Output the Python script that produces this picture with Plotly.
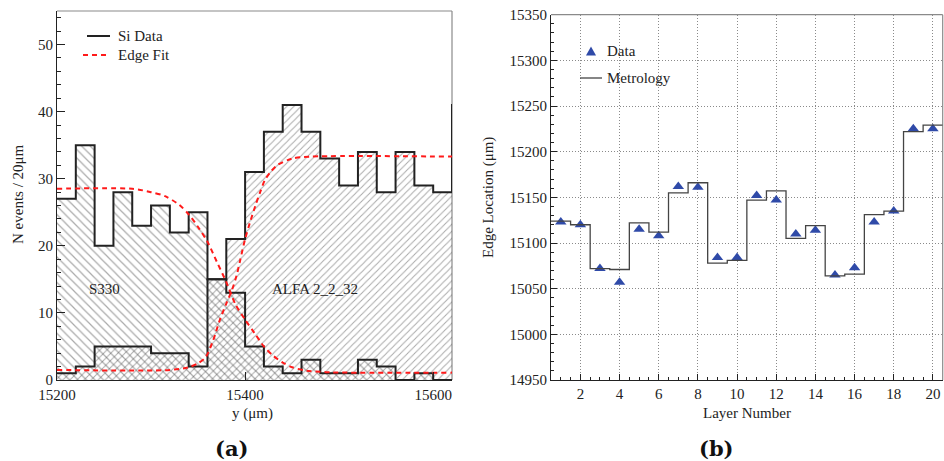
import plotly.graph_objects as go

W, H = 944, 461
FONT = "Liberation Serif, Times New Roman, serif"
BOLD_FONT = "DejaVu Serif, serif"
FS = 15

# ---------------- (a) edge scan histograms ----------------
bin_edges = list(range(15200, 15641, 20))          # 15200 ... 15640
s330_counts = [27, 35, 20, 28, 23, 26, 22, 25, 15, 13, 5, 2, 1, 3, 1, 1, 3, 2, 0, 1, 0, 0]
alfa_counts = [1, 2, 5, 5, 5, 4, 4, 2, 15, 21, 31, 37, 41, 37, 33, 29, 34, 28, 34, 29, 28, 41]

# edge-fit curves (sampled)
s330_fit_y = [15200, 15280, 15300, 15315, 15330, 15340, 15350, 15360, 15370, 15380,
              15390, 15400, 15410, 15420, 15430, 15440, 15450, 15465, 15490, 15620]
s330_fit_n = [28.5, 28.5, 28.0, 27.4, 26.1, 24.7, 22.8, 20.6, 17.6, 14.6,
              11.2, 9.0, 7.0, 5.0, 3.6, 2.6, 1.9, 1.4, 1.15, 1.1]
alfa_fit_y = [15200, 15320, 15340, 15350, 15358, 15366, 15373, 15380, 15386, 15391,
              15395, 15400, 15405, 15411, 15416, 15421, 15427, 15434, 15450, 15470, 15620]
alfa_fit_n = [1.5, 1.5, 1.9, 2.5, 3.4, 5.9, 8.9, 11.4, 13.4, 15.6,
              18.0, 21.0, 23.4, 26.0, 28.0, 29.8, 31.0, 32.0, 33.0, 33.3, 33.3]

# ---------------- (b) edge location per layer ----------------
layers = list(range(1, 21))
data_edge = [15123, 15120, 15072, 15057, 15115, 15108, 15162, 15161, 15084, 15084,
             15152, 15147, 15110, 15114, 15065, 15073, 15123, 15135, 15225, 15225]
metrology = [15124, 15120, 15072, 15071, 15122, 15112, 15155, 15166, 15078, 15081,
             15147, 15157, 15105, 15119, 15064, 15066, 15131, 15135, 15222, 15229]

RED = "#ff1a1a"
BLUE = "#2f4aa8"
INK = "#222222"

fig = go.Figure()

def steps(vals):
    return vals + [vals[-1]]

hatch_col = "#555555"
# hatched fills
fig.add_trace(go.Scatter(
    x=bin_edges, y=steps(s330_counts), mode="lines", line=dict(width=0, shape="hv"),
    fill="tozeroy", fillcolor="rgba(0,0,0,0)",
    fillpattern=dict(shape="\\", fgcolor=hatch_col, bgcolor="rgba(0,0,0,0)",
                     size=6, solidity=0.2, fillmode="overlay"),
    showlegend=False, hoverinfo="skip", xaxis="x", yaxis="y"))
fig.add_trace(go.Scatter(
    x=bin_edges, y=steps(alfa_counts), mode="lines", line=dict(width=0, shape="hv"),
    fill="tozeroy", fillcolor="rgba(0,0,0,0)",
    fillpattern=dict(shape="/", fgcolor=hatch_col, bgcolor="rgba(0,0,0,0)",
                     size=5, solidity=0.2, fillmode="overlay"),
    showlegend=False, hoverinfo="skip", xaxis="x", yaxis="y"))
# outlines
for counts in (s330_counts, alfa_counts):
    fig.add_trace(go.Scatter(
        x=bin_edges, y=steps(counts), mode="lines",
        line=dict(color=INK, width=2, shape="hv"),
        showlegend=False, xaxis="x", yaxis="y"))
# fits
for fy, fn in ((s330_fit_y, s330_fit_n), (alfa_fit_y, alfa_fit_n)):
    fig.add_trace(go.Scatter(
        x=fy, y=fn, mode="lines",
        line=dict(color=RED, width=2, dash="5px,4px", shape="spline", smoothing=0.8),
        showlegend=False, xaxis="x", yaxis="y"))

# panel (b)
fig.add_trace(go.Scatter(
    x=layers, y=data_edge, mode="markers",
    marker=dict(symbol="triangle-up", size=10, color=BLUE),
    showlegend=False, xaxis="x2", yaxis="y2"))
fig.add_trace(go.Scatter(
    x=[l - 0.5 for l in layers] + [layers[-1] + 0.5], y=steps(metrology), mode="lines",
    line=dict(color="#444444", width=1.3, shape="hv"),
    showlegend=False, xaxis="x2", yaxis="y2"))

axfont = dict(family=FONT, size=FS, color=INK)
common = dict(ticks="inside", tickcolor=INK, showline=True, linecolor=INK, linewidth=1.2,
              zeroline=False, tickfont=axfont, automargin=False, tickformat="d")

fig.update_layout(
    width=W, height=H, margin=dict(l=0, r=0, t=0, b=0, autoexpand=False),
    paper_bgcolor="white", plot_bgcolor="white", showlegend=False,
    font=dict(family=FONT, size=FS, color=INK),
    xaxis=dict(domain=[57 / W, 452 / W], range=[15200, 15620], anchor="y",
               tickvals=[15200, 15400, 15600], ticklen=8, showgrid=False,
               ticklabelstandoff=1, **common),
    yaxis=dict(domain=[1 - 380 / H, 1 - 11 / H], range=[0, 55], anchor="x",
               tickvals=[0, 10, 20, 30, 40, 50], ticklen=8,
               minor=dict(dtick=2, ticks="inside", ticklen=4, tickcolor=INK),
               showgrid=False, **common),
    xaxis2=dict(domain=[551 / W, 942.7 / W], range=[0.5, 20.5], anchor="y2",
                tickvals=list(range(2, 21, 2)), ticklen=6,
                minor=dict(dtick=0.5, tick0=0, ticks="inside", ticklen=3, tickcolor=INK,
                           showgrid=False),
                showgrid=True, gridcolor="#8a8a8a", griddash="1px,2px", gridwidth=1,
                **common),
    yaxis2=dict(domain=[1 - 380 / H, 1 - 14.7 / H], range=[14950, 15350], anchor="x2",
                dtick=50, ticklen=6,
                minor=dict(dtick=10, ticks="inside", ticklen=3, tickcolor=INK,
                           showgrid=False),
                showgrid=True, gridcolor="#8a8a8a", griddash="1px,2px", gridwidth=1,
                **common),
)

# frame edges (top/right) in grey
for xr, yr in (("x domain", "y domain"), ("x2 domain", "y2 domain")):
    fig.add_shape(type="line", xref=xr, yref=yr, x0=0, x1=1, y0=1, y1=1,
                  line=dict(color="#8a8a8a", width=1.2), layer="below")
    fig.add_shape(type="line", xref=xr, yref=yr, x0=1, x1=1, y0=0, y1=1,
                  line=dict(color="#8a8a8a", width=1.2), layer="below")

def px(x):
    return x / W

def py(y):
    return 1 - y / H

# legend keys
fig.add_shape(type="line", xref="paper", yref="paper", x0=px(87), x1=px(110),
              y0=py(36), y1=py(36), line=dict(color=INK, width=2))
fig.add_shape(type="line", xref="paper", yref="paper", x0=px(83), x1=px(109),
              y0=py(55), y1=py(55), line=dict(color=RED, width=2, dash="5px,4px"))
fig.add_shape(type="path", xref="paper", yref="paper",
              path=f"M {px(586)},{py(55.5)} L {px(596)},{py(55.5)} L {px(591)},{py(46.5)} Z",
              fillcolor=BLUE, line=dict(width=0))
fig.add_shape(type="line", xref="paper", yref="paper", x0=px(580), x1=px(602),
              y0=py(78), y1=py(78), line=dict(color="#444444", width=1.3))

ann = [
    dict(text="Si Data", x=px(116), y=py(36), xanchor="left"),
    dict(text="Edge Fit", x=px(116), y=py(55), xanchor="left"),
    dict(text="Data", x=px(605), y=py(51), xanchor="left"),
    dict(text="Metrology", x=px(605), y=py(78), xanchor="left"),
    dict(text="S330", x=15250, y=13.5, xref="x", yref="y"),
    dict(text="ALFA 2_2_32", x=15474, y=13.5, xref="x", yref="y"),
    dict(text="N events / 20μm", x=px(18), y=py(194), textangle=-90),
    dict(text="y (μm)", x=px(252), y=py(413)),
    dict(text="<b>(a)</b>", x=px(231), y=py(448),
         font=dict(family=BOLD_FONT, size=21, color="#111")),
    dict(text="Edge Location (μm)", x=px(489), y=py(198), textangle=-90),
    dict(text="Layer Number", x=px(747), y=py(413)),
    dict(text="<b>(b)</b>", x=px(716), y=py(448),
         font=dict(family=BOLD_FONT, size=21, color="#111")),
]
for a in ann:
    a.setdefault("font", dict(family=FONT, size=FS, color=INK))
    a.setdefault("xref", "paper")
    a.setdefault("yref", "paper")
    a.setdefault("xanchor", "center")
    fig.add_annotation(showarrow=False, yanchor="middle", **a)

fig.write_html("out.html")
